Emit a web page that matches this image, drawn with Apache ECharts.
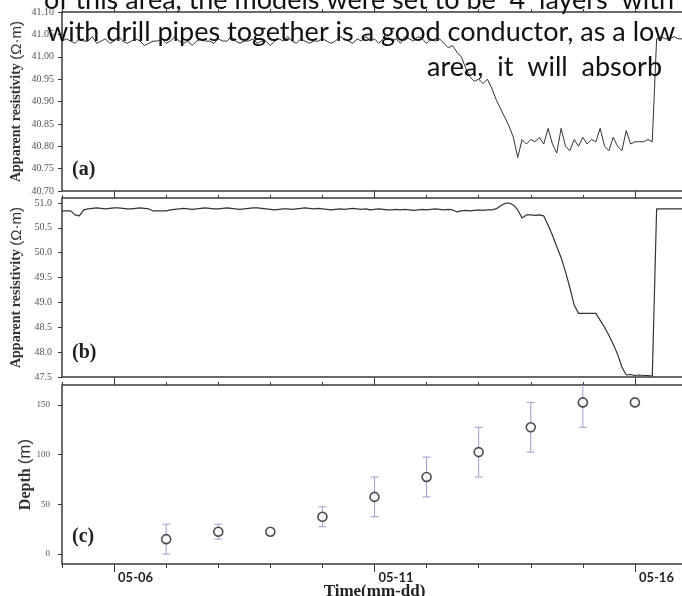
<!DOCTYPE html>
<html>
<head>
<meta charset="utf-8">
<script src="https://cdn.jsdelivr.net/npm/echarts@6/dist/echarts.min.js"></script>
<style>
html, body { margin: 0; padding: 0; background: #fff; }
#chart { width: 682px; height: 596px; }
</style>
</head>
<body>
<div id="chart"></div>
<script>
// time axis is in days of May, samples every 2 hours starting 05-05 00:00
var START_DAY = 5;
var STEP_DAYS = 2 / 24;

// (a) apparent resistivity, Ohm.m
var resistivityA = [
  41.035, 41.040, 41.035, 41.030, 41.040, 41.035, 41.035, 41.045, 41.030, 41.035,
  41.040, 41.030, 41.035, 41.045, 41.035, 41.030, 41.035, 41.040, 41.035, 41.025,
  41.030, 41.035, 41.035, 41.040, 41.030, 41.035, 41.045, 41.035, 41.030, 41.035,
  41.025, 41.035, 41.040, 41.035, 41.035, 41.030, 41.040, 41.035, 41.035, 41.045,
  41.035, 41.030, 41.035, 41.035, 41.040, 41.030, 41.035, 41.035, 41.025, 41.035,
  41.040, 41.035, 41.045, 41.035, 41.030, 41.040, 41.035, 41.030, 41.035, 41.035,
  41.040, 41.035, 41.030, 41.035, 41.045, 41.040, 41.035, 41.030, 41.040, 41.035,
  41.045, 41.035, 41.040, 41.030, 41.040, 41.045, 41.035, 41.040, 41.030, 41.045,
  41.040, 41.035, 41.045, 41.040, 41.030, 41.040, 41.035,
  41.040, 41.030, 41.020, 41.025, 41.010, 41.000, 40.975, 40.955, 40.945, 40.950,
  40.940, 40.950, 40.930, 40.905, 40.885, 40.865, 40.845, 40.820, 40.775,
  40.815, 40.805, 40.815, 40.810, 40.820, 40.805, 40.840, 40.805, 40.785, 40.840,
  40.800, 40.790, 40.815, 40.800, 40.820, 40.805, 40.815, 40.810, 40.840, 40.800,
  40.790, 40.820, 40.800, 40.790, 40.835, 40.805, 40.810, 40.810, 40.810, 40.815,
  40.810,
  41.040, 41.045, 41.040, 41.040, 41.045, 41.040, 41.040, 41.045
];

// (b) apparent resistivity, Ohm.m
var resistivityB = [
  50.84, 50.84, 50.84, 50.76, 50.74, 50.86, 50.88,
  50.89, 50.90, 50.89, 50.88, 50.89, 50.90, 50.90, 50.89, 50.88, 50.88, 50.89, 50.90, 50.89, 50.88,
  50.84, 50.84, 50.84, 50.84,
  50.86, 50.87, 50.88, 50.89, 50.88, 50.87, 50.88, 50.89, 50.90, 50.89,
  50.88, 50.88, 50.89, 50.90, 50.89, 50.88, 50.87, 50.88, 50.89, 50.90,
  50.90, 50.89, 50.88, 50.87, 50.86, 50.87, 50.88, 50.88, 50.87, 50.88,
  50.89, 50.90, 50.89, 50.88, 50.89, 50.88, 50.87, 50.86, 50.87, 50.88,
  50.87, 50.88, 50.89, 50.88, 50.87, 50.88, 50.86, 50.87, 50.88, 50.87,
  50.86, 50.86, 50.87, 50.86, 50.87, 50.86, 50.85, 50.86, 50.87, 50.86,
  50.87, 50.88, 50.87, 50.86, 50.87, 50.86,
  50.82, 50.84, 50.85, 50.84, 50.85, 50.86, 50.85, 50.86, 50.86,
  50.88, 50.94, 50.99, 51.00, 50.96, 50.86, 50.70, 50.76, 50.76, 50.75, 50.76,
  50.74, 50.55, 50.35, 50.12, 49.90, 49.62, 49.30, 48.95, 48.78, 48.78, 48.78, 48.78, 48.78,
  48.64, 48.50, 48.34, 48.16, 47.96, 47.70, 47.54, 47.55, 47.53, 47.54, 47.53, 47.53, 47.52,
  50.88, 50.88, 50.88, 50.88, 50.88, 50.88, 50.88, 50.92
];

// (c) depth, m
var depthDays = [7, 8, 9, 10, 11, 12, 13, 14, 15, 16];
var depthValues = [15, 22.5, 22.5, 37.5, 57.5, 77.5, 102.5, 127.5, 152.5, 152.5];
var depthLow = [0, 15, null, 27.5, 37.5, 57.5, 77.5, 102.5, 127.5, null];
var depthHigh = [30, 30, null, 47.5, 77.5, 97.5, 127.5, 152.5, 177.5, null];

var dayLabels = [6, 11, 16];
var ticksB = [47.5, 48.0, 48.5, 49.0, 49.5, 50.0, 50.5, 51.0];
var ticksC = [0, 50, 100, 150];

var textLines = [
  'of this area, the models were set to be  4  layers  with',
  'with drill pipes together is a good conductor, as a low',
  'area,  it  will  absorb'
];

var AXIS_COLOR = '#3a3a3a';
var LABEL_COLOR = '#555';
var SERIF = '"Liberation Serif", "DejaVu Serif", serif';

function toSeries(values) {
  return values.map(function (v, i) { return [START_DAY + i * STEP_DAYS, v]; });
}

function fmtDay(v) {
  return '05-' + (v < 10 ? '0' : '') + v;
}

var chart = echarts.init(document.getElementById('chart'));

var gridBox = {
  left: 62, width: 625, height: 179, outerBoundsMode: 'none',
  show: true, borderColor: AXIS_COLOR, borderWidth: 1.5
};
var grids = [
  Object.assign({ top: 12 }, gridBox),
  Object.assign({ top: 198 }, gridBox),
  Object.assign({ top: 385 }, gridBox)
];

function dayAxis(gridIndex, position, tickLength, customTicks) {
  var tick = { show: true, length: tickLength, lineStyle: { color: AXIS_COLOR, width: 1 } };
  if (customTicks) tick.customValues = customTicks;
  return {
    type: 'value', gridIndex: gridIndex, position: position,
    min: 5, max: 17, interval: 1,
    axisLine: { show: false, onZero: false },
    axisTick: tick,
    axisLabel: { show: false },
    splitLine: { show: false }
  };
}

var xAxes = [
  dayAxis(0, 'top', 3), dayAxis(0, 'top', 7, dayLabels),
  dayAxis(1, 'top', 3), dayAxis(1, 'top', 7, dayLabels),
  dayAxis(2, 'top', 3), dayAxis(2, 'top', 7, dayLabels),
  dayAxis(2, 'bottom', 4)
];
var labelAxis = dayAxis(2, 'bottom', 8, dayLabels);
labelAxis.axisLabel = {
  show: true, customValues: dayLabels, formatter: fmtDay,
  align: 'left', padding: [0, 0, 0, 4], margin: 7,
  fontFamily: 'Lato, "Open Sans", sans-serif', fontWeight: 'bold', fontSize: 13, color: '#222'
};
labelAxis.name = 'Time(mm-dd)';
labelAxis.nameLocation = 'middle';
labelAxis.nameGap = 19;
labelAxis.nameMoveOverlap = false;
labelAxis.nameTextStyle = { fontFamily: SERIF, fontWeight: 'bold', fontSize: 17, color: '#222' };
xAxes.push(labelAxis);

function resistivityName() {
  return {
    name: '{s|Apparent resistivity }{u|(Ω·m)}',
    nameLocation: 'middle', nameGap: 38, nameRotate: 90, nameMoveOverlap: false,
    nameTextStyle: {
      rich: {
        s: { fontFamily: SERIF, fontWeight: 'bold', fontSize: 14, color: '#333' },
        u: { fontFamily: '"Liberation Sans", sans-serif', fontSize: 15, color: '#333' }
      }
    }
  };
}

var yAxes = [
  Object.assign({
    type: 'value', gridIndex: 0, min: 40.7, max: 41.1, interval: 0.05,
    axisLine: { show: false },
    axisTick: { show: true, length: 4, lineStyle: { color: AXIS_COLOR } },
    axisLabel: { margin: 8, fontFamily: SERIF, fontSize: 10, color: LABEL_COLOR,
      formatter: function (v) { return v.toFixed(2); } },
    splitLine: { show: false }
  }, resistivityName()),
  Object.assign({
    type: 'value', gridIndex: 1, min: 47.5, max: 51.1,
    axisLine: { show: false },
    axisTick: { show: true, length: 4, customValues: ticksB, lineStyle: { color: AXIS_COLOR } },
    axisLabel: { margin: 10, customValues: ticksB, fontFamily: SERIF, fontSize: 10, color: LABEL_COLOR,
      formatter: function (v) { return v.toFixed(1); } },
    splitLine: { show: false }
  }, resistivityName()),
  {
    type: 'value', gridIndex: 2, min: -10, max: 170,
    axisLine: { show: false },
    axisTick: { show: true, length: 4, customValues: ticksC, lineStyle: { color: AXIS_COLOR } },
    axisLabel: { margin: 12, customValues: ticksC, fontFamily: SERIF, fontSize: 9, color: LABEL_COLOR },
    splitLine: { show: false },
    name: '{s|Depth }{u|(m)}',
    nameLocation: 'middle', nameGap: 28, nameRotate: 90, nameMoveOverlap: false,
    nameTextStyle: {
      rich: {
        s: { fontFamily: SERIF, fontWeight: 'bold', fontSize: 16, color: '#333' },
        u: { fontFamily: '"Liberation Sans", sans-serif', fontSize: 17, color: '#333' }
      }
    }
  }
];

var errorData = [];
for (var i = 0; i < depthDays.length; i++) {
  if (depthLow[i] !== null) errorData.push([depthDays[i], depthLow[i], depthHigh[i]]);
}

function renderErrorBar(params, api) {
  var x = api.value(0);
  var lo = api.coord([x, api.value(1)]);
  var hi = api.coord([x, api.value(2)]);
  var cap = 4;
  var style = { stroke: '#9d9dcf', lineWidth: 1 };
  return {
    type: 'group',
    children: [
      { type: 'line', shape: { x1: lo[0], y1: lo[1], x2: hi[0], y2: hi[1] }, style: style },
      { type: 'line', shape: { x1: lo[0] - cap, y1: lo[1], x2: lo[0] + cap, y2: lo[1] }, style: style },
      { type: 'line', shape: { x1: hi[0] - cap, y1: hi[1], x2: hi[0] + cap, y2: hi[1] }, style: style }
    ]
  };
}

function panelLabel(text, y) {
  return {
    type: 'text', left: 72, top: y, z: 50,
    style: { text: text, font: 'bold 20px ' + SERIF, fill: '#222' }
  };
}

function paperLine(text, x, y) {
  return {
    type: 'text', x: x, y: y, z: 100,
    style: { text: text, font: '27px Lato, sans-serif', fill: '#111', verticalAlign: 'middle' }
  };
}

var option = {
  animation: false,
  backgroundColor: '#fff',
  grid: grids,
  xAxis: xAxes,
  yAxis: yAxes,
  series: [
    {
      type: 'line', xAxisIndex: 0, yAxisIndex: 0, data: toSeries(resistivityA),
      showSymbol: false, lineStyle: { color: '#333', width: 1 }
    },
    {
      type: 'line', xAxisIndex: 2, yAxisIndex: 1, data: toSeries(resistivityB),
      showSymbol: false, lineStyle: { color: '#333', width: 1.2 }
    },
    {
      type: 'custom', xAxisIndex: 4, yAxisIndex: 2, data: errorData,
      renderItem: renderErrorBar, clip: true
    },
    {
      type: 'scatter', xAxisIndex: 4, yAxisIndex: 2,
      data: depthDays.map(function (d, i) { return [d, depthValues[i]]; }),
      symbol: 'circle', symbolSize: 9,
      itemStyle: { color: '#fff', borderColor: '#222', borderWidth: 1.6 }
    }
  ],
  graphic: [
    panelLabel('(a)', 160),
    panelLabel('(b)', 343),
    panelLabel('(c)', 527),
    paperLine(textLines[0], 44, 0),
    paperLine(textLines[1], 47, 32),
    paperLine(textLines[2], 427, 67)
  ]
};

chart.setOption(option);
</script>
</body>
</html>
